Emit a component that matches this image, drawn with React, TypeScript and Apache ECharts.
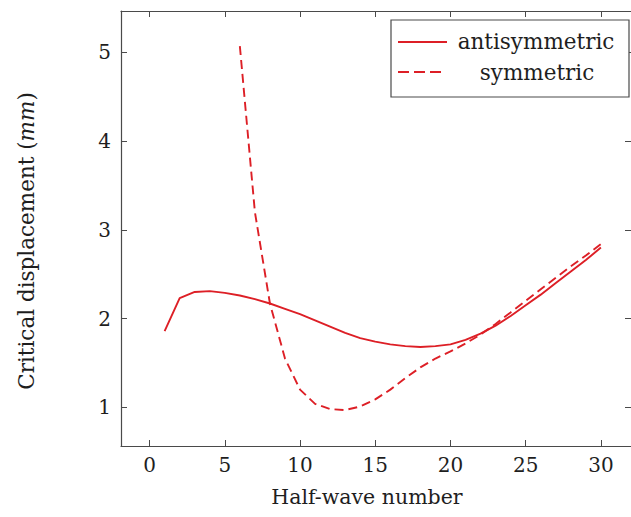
import React, { useEffect, useRef } from "react";
import * as echarts from "echarts";

const halfWaves: number[] = [1, 2, 3, 4, 5, 6, 7, 8, 9, 10, 11, 12, 13, 14, 15, 16, 17, 18, 19, 20, 21, 22, 23, 24, 25, 26, 27, 28, 29, 30];
const antisymmetric: number[] = [1.86, 2.23, 2.30, 2.31, 2.29, 2.26, 2.22, 2.17, 2.11, 2.05, 1.98, 1.91, 1.84, 1.78, 1.74, 1.71, 1.69, 1.68, 1.69, 1.71, 1.76, 1.83, 1.92, 2.03, 2.15, 2.27, 2.40, 2.53, 2.66, 2.80];
const symmetricX: number[] = [6, 7, 8, 9, 10, 11, 12, 13, 14, 15, 16, 17, 18, 19, 20, 21, 22, 23, 24, 25, 26, 27, 28, 29, 30];
const symmetric: number[] = [5.07, 3.2, 2.17, 1.55, 1.2, 1.04, 0.98, 0.97, 1.01, 1.09, 1.2, 1.33, 1.45, 1.55, 1.63, 1.72, 1.82, 1.94, 2.07, 2.2, 2.33, 2.46, 2.59, 2.71, 2.84];
const xTicks: number[] = [0, 5, 10, 15, 20, 25, 30];
const yTicks: number[] = [1, 2, 3, 4, 5];
const seriesNames: string[] = ["antisymmetric", "symmetric"];
const xTitle = "Half-wave number";
const yTitle = "Critical displacement ({i|mm})";

const RED = "#dd1f26";
const FRAME = "#4a4a4a";
const TEXT = "#1e1e1e";
const FONT = "DejaVu Serif";

export default function App() {
  const ref = useRef<HTMLDivElement>(null);
  useEffect(() => {
    if (!ref.current) return;
    const chart = echarts.init(ref.current, undefined, { renderer: "svg" });
    const xMin = -1.9, xMax = 32.0, yMin = 0.565, yMax = 5.465;
    const tickStyle = { show: true, inside: true, length: 6, lineStyle: { color: FRAME, width: 1 } };
    const lineStyle = { show: true, onZero: false, lineStyle: { color: FRAME, width: 1.2 } };
    chart.setOption({
      animation: false,
      backgroundColor: "#ffffff",
      textStyle: { fontFamily: FONT },
      grid: { left: 121, top: 11, right: 0, height: 435, containLabel: false },
      xAxis: [
        {
          type: "value", position: "bottom", min: xMin, max: xMax,
          axisLine: lineStyle,
          axisTick: { ...tickStyle, customValues: xTicks },
          axisLabel: { customValues: xTicks, margin: 9, fontSize: 20, fontFamily: FONT, color: TEXT },
          splitLine: { show: false },
        },
        {
          type: "value", position: "top", min: xMin, max: xMax,
          axisLine: lineStyle,
          axisTick: { ...tickStyle, customValues: xTicks },
          axisLabel: { show: false },
          splitLine: { show: false },
        },
      ],
      yAxis: [
        {
          type: "value", position: "left", min: yMin, max: yMax,
          axisLine: lineStyle,
          axisTick: { ...tickStyle, customValues: yTicks },
          axisLabel: { customValues: yTicks, margin: 10, fontSize: 20, fontFamily: FONT, color: TEXT },
          splitLine: { show: false },
        },
        {
          type: "value", position: "right", min: yMin, max: yMax,
          axisLine: { show: false, onZero: false },
          axisTick: { ...tickStyle, customValues: yTicks },
          axisLabel: { show: false },
          splitLine: { show: false },
        },
      ],
      series: [
        {
          name: seriesNames[0], type: "line", xAxisIndex: 0, yAxisIndex: 0,
          data: halfWaves.map((x, i) => [x, antisymmetric[i]]),
          showSymbol: false, symbol: "none",
          lineStyle: { color: RED, width: 1.9 },
        },
        {
          name: seriesNames[1], type: "line", xAxisIndex: 0, yAxisIndex: 0,
          data: symmetricX.map((x, i) => [x, symmetric[i]]),
          showSymbol: false, symbol: "none",
          lineStyle: { color: RED, width: 1.9, type: [9, 5] },
        },
      ],
      graphic: [
        {
          type: "text", x: 367, y: 497,
          style: { text: xTitle, fill: TEXT, font: `20.5px ${FONT}`, align: "center", verticalAlign: "middle" },
        },
        {
          type: "text", x: 26, y: 241, rotation: Math.PI / 2,
          style: {
            text: yTitle, fill: TEXT, font: `21.5px ${FONT}`, align: "center", verticalAlign: "middle",
            rich: { i: { fontStyle: "italic", fontSize: 21.5, fontFamily: FONT, fill: TEXT } },
          },
        },
        {
          type: "rect", shape: { x: 391, y: 20, width: 238, height: 77 },
          style: { fill: "#ffffff", stroke: FRAME, lineWidth: 1.2 }, z: 100,
        },
        {
          type: "line", shape: { x1: 398, y1: 42, x2: 447, y2: 42 },
          style: { stroke: RED, lineWidth: 1.9 }, z: 101,
        },
        {
          type: "line", shape: { x1: 398, y1: 72, x2: 442, y2: 72 },
          style: { stroke: RED, lineWidth: 1.9, lineDash: [11, 5] }, z: 101,
        },
        {
          type: "text", x: 536, y: 41, z: 101,
          style: { text: seriesNames[0], fill: TEXT, font: `21.5px ${FONT}`, align: "center", verticalAlign: "middle" },
        },
        {
          type: "text", x: 537, y: 72, z: 101,
          style: { text: seriesNames[1], fill: TEXT, font: `21.5px ${FONT}`, align: "center", verticalAlign: "middle" },
        },
      ],
    });
    return () => chart.dispose();
  }, []);
  return (
    <div
      ref={ref}
      style={{ position: "fixed", left: 0, top: 0, width: 631, height: 517, background: "#fff" }}
    />
  );
}
